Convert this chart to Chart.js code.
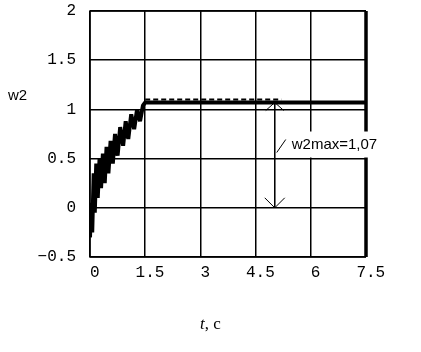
<!DOCTYPE html>
<html>
<head>
<meta charset="utf-8">
<script src="https://cdn.jsdelivr.net/npm/chart.js@4/dist/chart.umd.min.js"></script>
<style>
    html, body { margin: 0; padding: 0; background: #fff; }
    #wrap { position: relative; width: 421px; height: 352px; }
</style>
</head>
<body>
<div id="wrap"><canvas id="myChart" width="421" height="352"></canvas></div>
<script>
"use strict";

// время, с
const tValues = [0, 0.03, 0.06, 0.1, 0.13, 0.17, 0.21, 0.26, 0.3, 0.35, 0.4, 0.45, 0.5, 0.56, 0.62,
    0.68, 0.75, 0.82, 0.9, 0.97, 1.04, 1.12, 1.2, 1.28, 1.36, 1.44, 1.5, 7.5];
// w2 - переходный процесс
const w2Values = [-0.3, 0.05, -0.25, 0.35, -0.05, 0.45, 0.1, 0.5, 0.2, 0.55, 0.25, 0.62, 0.35, 0.68, 0.45,
    0.75, 0.53, 0.82, 0.63, 0.88, 0.7, 0.95, 0.8, 1.0, 0.88, 1.04, 1.07, 1.07];
// пунктир уровня максимума
const maxLineT = [1.5, 5.2];
const maxLineW = [1.1, 1.1];
// стрелка w2max
const arrowT = [5.02, 5.02];
const arrowW = [1.07, 0];
const annotationText = 'w2max=1,07';

// подписи осей
const xTicks = [0, 1.5, 3, 4.5, 6, 7.5];
const yTicks = [-0.5, 0, 0.5, 1, 1.5, 2];
const yTitle = 'w2';

const toPoints = (xs, ys) => xs.map((x, i) => ({x: x, y: ys[i]}));

// рисуем рамку, стрелки и подписи
const extras = {
    id: 'extras',
    afterDraw(chart) {
        const c = chart.ctx;
        const a = chart.chartArea;
        const xs = chart.scales.x, ys = chart.scales.y;
        c.save();
        c.strokeStyle = '#000';
        // рамка
        c.lineWidth = 1.5;
        c.beginPath();
        c.moveTo(a.right, a.top);
        c.lineTo(a.left, a.top);
        c.lineTo(a.left, a.bottom);
        c.lineTo(a.right, a.bottom);
        c.stroke();
        c.lineWidth = 3.5;
        c.beginPath();
        c.moveTo(a.right, a.top);
        c.lineTo(a.right, a.bottom);
        c.stroke();

        // наконечники стрелки
        const ax = xs.getPixelForValue(arrowT[0]);
        const yTop = ys.getPixelForValue(arrowW[0]);
        const yBot = ys.getPixelForValue(arrowW[1]);
        c.lineWidth = 1;
        c.beginPath();
        c.moveTo(ax - 10, yBot - 10); c.lineTo(ax, yBot); c.lineTo(ax + 10, yBot - 10);
        c.moveTo(ax - 9, yTop + 8); c.lineTo(ax, yTop); c.lineTo(ax + 9, yTop + 8);
        c.stroke();

        // подпись w2max с белым фоном
        c.font = '15px "Liberation Sans", Arial, sans-serif';
        const tw = c.measureText(annotationText).width;
        const tx = ax + 17, ty = yTop + 42;
        c.fillStyle = '#fff';
        c.fillRect(tx - 2, ty - 13, tw + 4, 26);
        c.fillStyle = '#000';
        c.textBaseline = 'middle';
        c.fillText(annotationText, tx, ty);
        c.beginPath();
        c.moveTo(ax + 2, ty + 8);
        c.lineTo(ax + 11, ty - 5);
        c.stroke();

        // подпись оси y
        c.font = '15px "Liberation Sans", Arial, sans-serif';
        c.fillText(yTitle, 8, ys.getPixelForValue(1) - 14);

        // подпись оси x
        c.font = 'italic 17px "Liberation Serif", "Times New Roman", serif';
        const t1 = 't';
        const w1 = c.measureText(t1).width;
        c.fillText(t1, 200, 325);
        c.font = '17px "Liberation Serif", "Times New Roman", serif';
        c.fillText(', c', 200 + w1, 325);
        c.restore();
    }
};

const ctx = document.getElementById('myChart');
const myChart = new Chart(ctx, {
    type: 'scatter',
    data: {
        datasets: [{
            data: toPoints(tValues, w2Values),
            showLine: true,
            borderColor: '#000',
            borderWidth: 4,
            borderJoinStyle: 'bevel',
            pointRadius: 0
        }, {
            data: toPoints(maxLineT, maxLineW),
            showLine: true,
            borderColor: '#000',
            borderWidth: 2,
            borderDash: [5, 3],
            pointRadius: 0
        }, {
            data: toPoints(arrowT, arrowW),
            showLine: true,
            borderColor: '#000',
            borderWidth: 1,
            pointRadius: 0
        }]
    },
    options: {
        responsive: false,
        animation: false,
        layout: { padding: { top: 11, right: 55, left: 0, bottom: 0 } },
        plugins: { legend: { display: false }, tooltip: { enabled: false } },
        scales: {
            x: {
                type: 'linear',
                min: 0,
                max: 7.5,
                afterBuildTicks: s => { s.ticks = xTicks.map(v => ({value: v})); },
                afterFit: s => { s.height = 95; s.paddingLeft = 0; s.paddingRight = 0; },
                ticks: {
                    color: '#000',
                    padding: 6,
                    maxRotation: 0,
                    font: { family: '"Liberation Mono", monospace', size: 16 },
                    // пробел слева сдвигает подпись чуть вправо, как в оригинале
                    callback: v => ' ' + String(v)
                },
                grid: { color: '#000', lineWidth: 1.5, drawTicks: false },
                border: { display: false }
            },
            y: {
                min: -0.5,
                max: 2,
                afterBuildTicks: s => { s.ticks = yTicks.map(v => ({value: v})); },
                // не оставляем место под половину верхней подписи
                afterFit: s => { s.width = 90; s.paddingTop = 0; s.paddingBottom = 0; },
                ticks: {
                    color: '#000',
                    padding: 14,
                    font: { family: '"Liberation Mono", monospace', size: 16 },
                    callback: v => v < 0 ? '\u2212' + Math.abs(v) : String(v)
                },
                grid: { color: '#000', lineWidth: 1.5, drawTicks: false },
                border: { display: false }
            }
        }
    },
    plugins: [extras]
});
</script>
</body>
</html>
